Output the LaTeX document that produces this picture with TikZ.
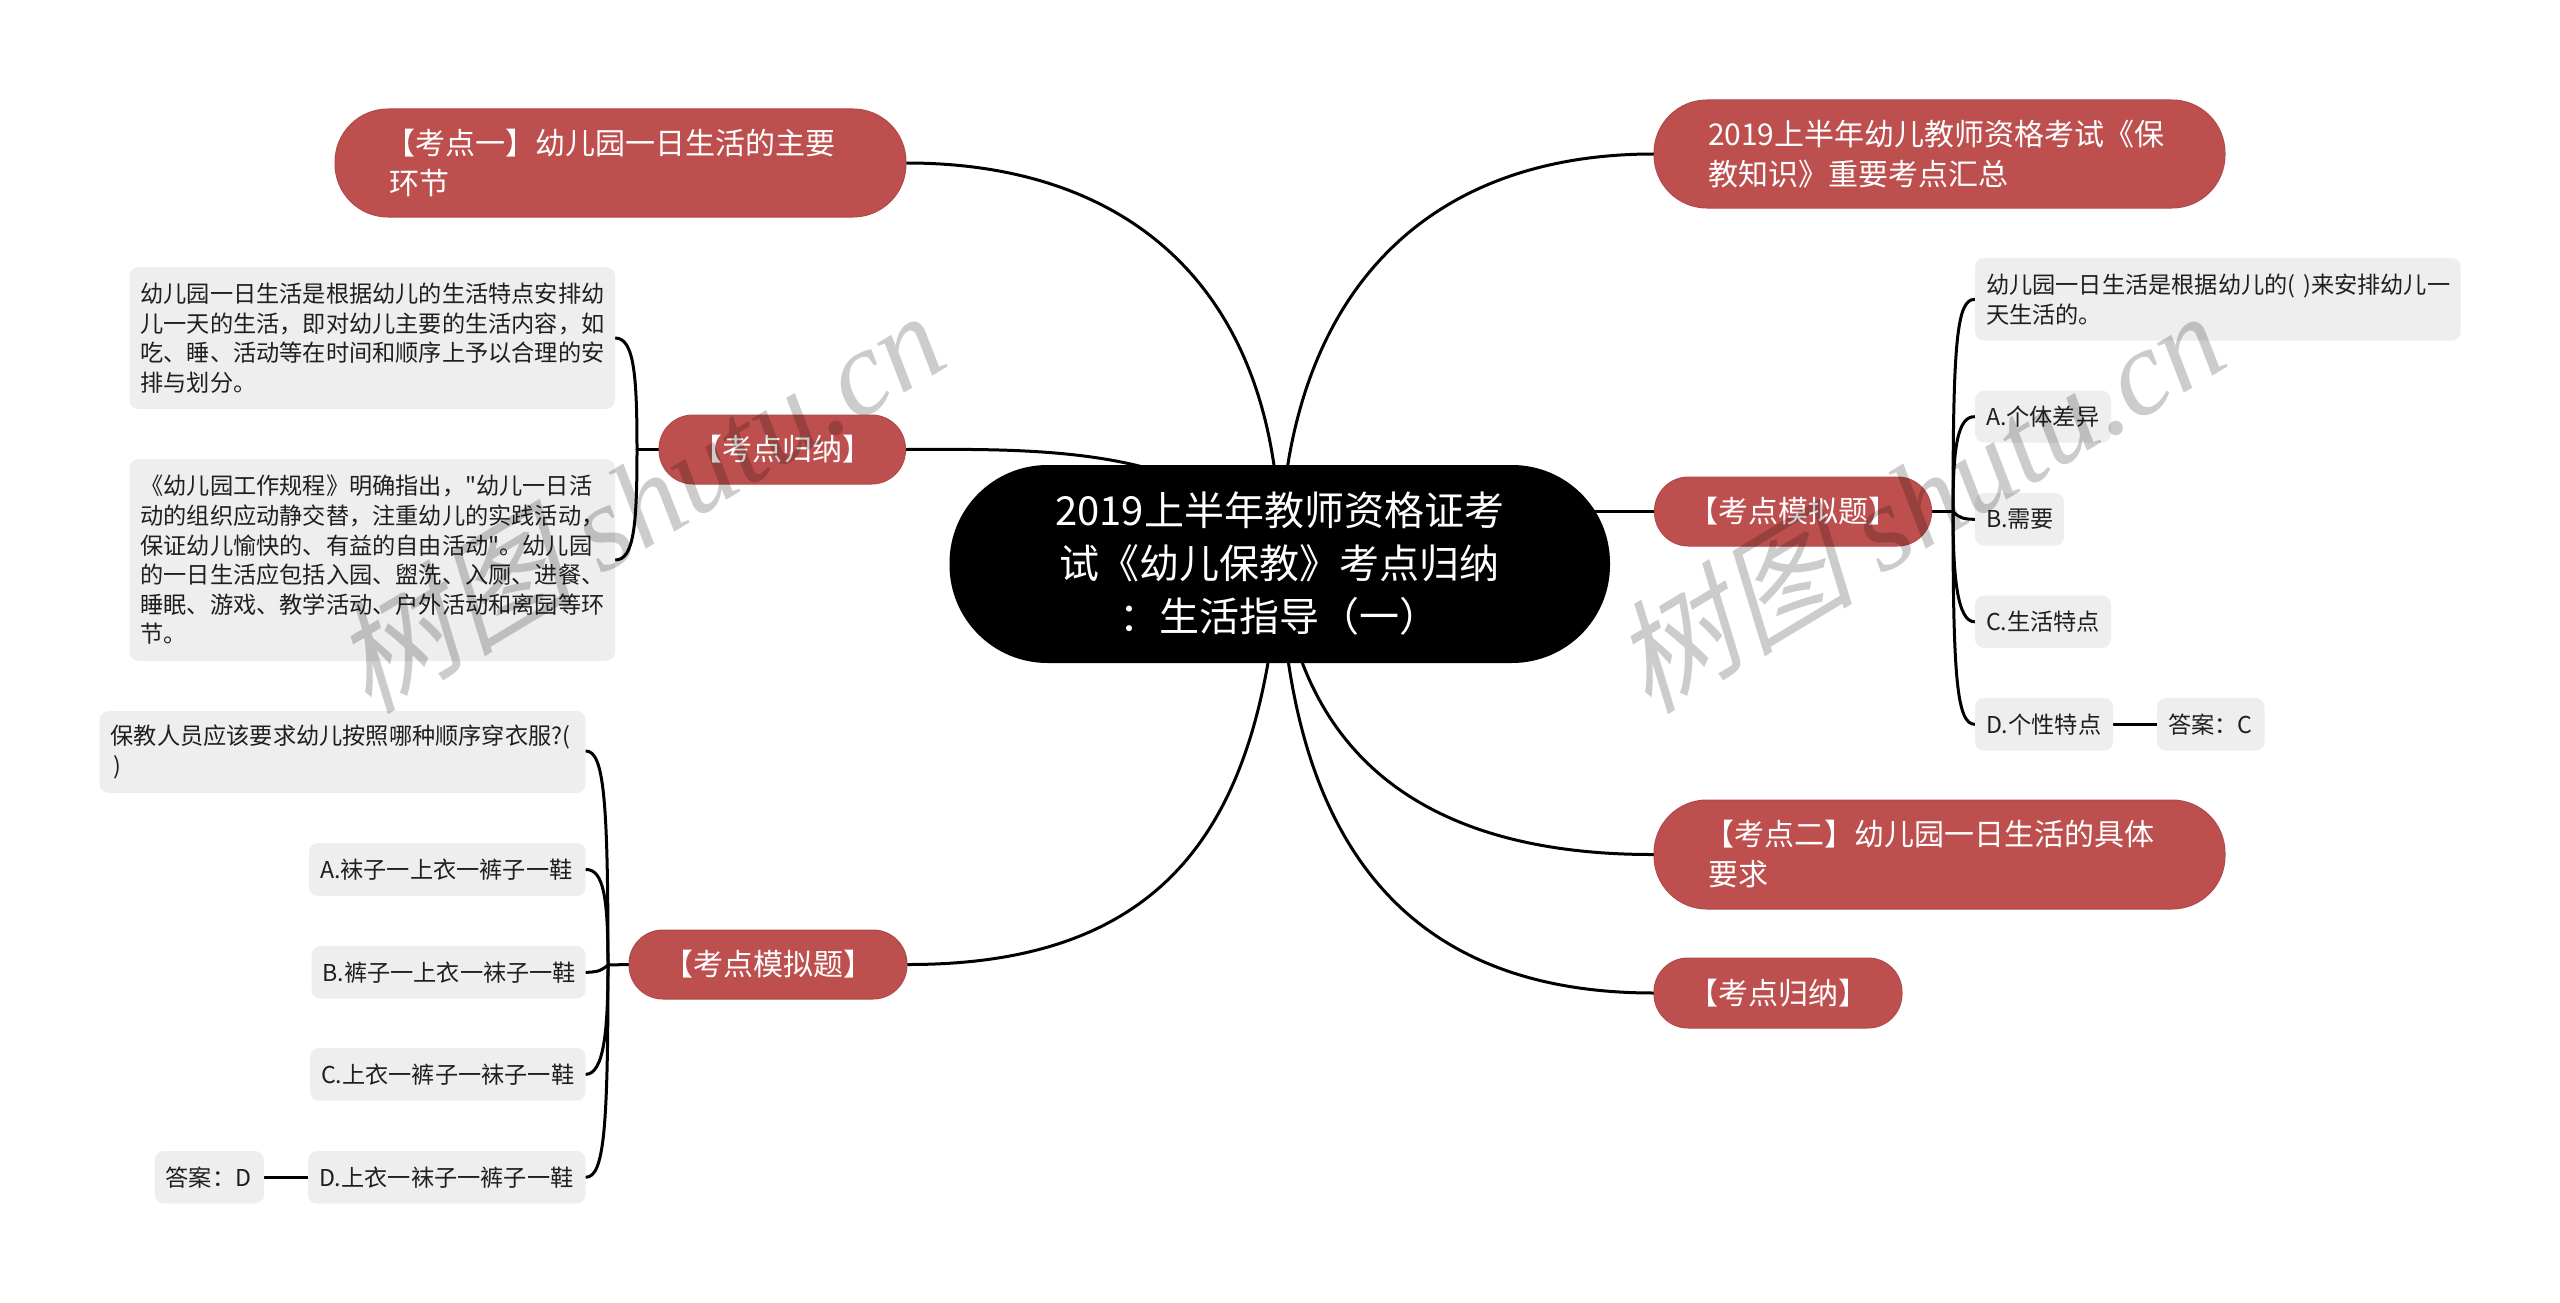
\documentclass[tikz,border=0pt]{standalone}
\usepackage{fontspec}
\setmainfont{Noto Sans CJK SC}[Ligatures=TeXOff]
\newfontfamily\wmcjk[FakeSlant=0.25]{Noto Sans CJK SC}
\newfontfamily\wmlat{Liberation Serif}[ItalicFont=Liberation Serif Italic]
\usetikzlibrary{backgrounds}
\definecolor{pillred}{HTML}{BD504E}
\definecolor{pilledge}{HTML}{B04A48}
\definecolor{leafgray}{HTML}{EEEEEE}
\tikzset{
  rootbox/.style={fill=black,text=white,rounded corners=98pt,inner sep=0pt,align=center,font=\fontsize{40}{53}\selectfont},
  pillbox/.style={fill=pillred,draw=pilledge,line width=1pt,text=white,rounded corners=34pt,inner sep=0pt,align=left,font=\fontsize{30}{40}\selectfont},
  tallpill/.style={pillbox,rounded corners=53pt},
  leafbox/.style={fill=leafgray,text=black!88,rounded corners=9pt,inner sep=0pt,align=left,font=\fontsize{23.2}{29.6}\selectfont},
  link/.style={draw=black,line width=3pt,line cap=round},
  watermark/.style={text=black,opacity=0.2,rotate=31,inner sep=0pt,font=\fontsize{122}{122}\selectfont}
}
\newcommand{\mnode}[8]{%
  \pgfmathsetmacro{\mcx}{(#2+#4)/2}\pgfmathsetmacro{\mcy}{(#3+#5)/2}%
  \pgfmathsetmacro{\mhh}{#5-#3}%
  \pgfmathsetmacro{\mtw}{#4-#2-2*#7}%
  \node[#6,inner xsep=#7 pt,text width=\mtw pt,minimum height=\mhh pt] (#1) at (\mcx,\mcy) {#8};}
\begin{document}
\begin{tikzpicture}[x=1pt,y=-1pt]
\useasboundingbox (0,0) rectangle (2560,1303);
% root
\mnode{root}{949.5}{465}{1610}{663}{rootbox}{40}{2019上半年教师资格证考\\试《幼儿保教》考点归纳\\：生活指导（一）}
% main branches
\mnode{pa}{335}{109}{906}{217}{tallpill}{54}{\hspace*{-4pt}【考点一】幼儿园一日生活的主要\\环节}
\mnode{pb}{659}{415}{905.5}{484}{pillbox,align=center}{20}{【考点归纳】}
\mnode{pc}{629}{930}{907}{999}{pillbox,align=center}{20}{【考点模拟题】}
\mnode{pd}{1654}{100}{2225}{208}{tallpill}{54}{2019上半年幼儿教师资格考试《保\\教知识》重要考点汇总}
\mnode{pe}{1654.5}{477}{1931.5}{546}{pillbox,align=center}{20}{【考点模拟题】}
\mnode{pf}{1654}{800}{2225}{909}{tallpill}{54}{\hspace*{-4pt}【考点二】幼儿园一日生活的具体\\要求}
\mnode{pg}{1654}{958}{1902}{1028}{pillbox,align=center}{20}{【考点归纳】}
% left notes
\mnode{na}{129.5}{267}{615}{409}{leafbox}{11}{幼儿园一日生活是根据幼儿的生活特点安排幼\\儿一天的生活，即对幼儿主要的生活内容，如\\吃、睡、活动等在时间和顺序上予以合理的安\\排与划分。}
\mnode{nb}{129.5}{459}{615}{661}{leafbox}{11}{《幼儿园工作规程》明确指出，"幼儿一日活\\动的组织应动静交替，注重幼儿的实践活动，\\保证幼儿愉快的、有益的自由活动"。幼儿园\\的一日生活应包括入园、盥洗、入厕、进餐、\\睡眠、游戏、教学活动、户外活动和离园等环\\节。}
% left questions
\mnode{lq}{99.7}{711}{585.6}{793}{leafbox}{11}{保教人员应该要求幼儿按照哪种顺序穿衣服?(\\\hspace*{3pt})}
\mnode{la}{309}{843}{585.6}{896}{leafbox}{11}{A.袜子一上衣一裤子一鞋}
\mnode{lb}{311.5}{946}{585.6}{998.7}{leafbox}{11}{B.裤子一上衣一袜子一鞋}
\mnode{lc}{310}{1048}{585.6}{1100.7}{leafbox}{11}{C.上衣一裤子一袜子一鞋}
\mnode{ld}{308}{1151}{585.6}{1203.5}{leafbox}{11}{D.上衣一袜子一裤子一鞋}
\mnode{le}{154.7}{1151}{264}{1203.5}{leafbox}{11}{答案：D}
% right questions
\mnode{rq}{1975}{258}{2460.6}{340.7}{leafbox}{11}{幼儿园一日生活是根据幼儿的(~)来安排幼儿一\\天生活的。}
\mnode{ra}{1975}{390.7}{2111}{442.7}{leafbox}{11}{A.个体差异}
\mnode{rb}{1975}{493}{2064}{545.7}{leafbox}{11}{B.需要}
\mnode{rc}{1975}{595.7}{2111}{648}{leafbox}{11}{C.生活特点}
\mnode{rd}{1975}{698}{2113}{750.7}{leafbox}{11}{D.个性特点}
\mnode{re}{2157}{698}{2264.6}{750.7}{leafbox}{11}{答案：C}
% trunks
\coordinate (tn) at (637,449.5);
\coordinate (tl) at (608,965);
\coordinate (tr) at (1953,511.5);
\begin{scope}[on background layer]
\draw[link] (pa.east) .. controls (1140,163) and (1285,300) .. (root.center);
\draw[link] (pb.east) .. controls (1040,449) and (1220,445) .. (root.center);
\draw[link] (pc.east) .. controls (1180,965) and (1262,810) .. (root.center);
\draw[link] (pd.west) .. controls (1420,154) and (1282,300) .. (root.center);
\draw[link] (pe.west) -- (1500,511.5);
\draw[link] (pf.west) .. controls (1430,855) and (1300,760) .. (root.center);
\draw[link] (pg.west) .. controls (1420,993) and (1290,860) .. (root.center);
\draw[link] (pb.west) -- (tn);
\draw[link] (tn) .. controls (637,375) and (634,338) .. (na.east |- 0,338);
\draw[link] (tn) .. controls (637,525) and (634,560) .. (na.east |- 0,560);
\draw[link] (pc.west) -- (tl);
\draw[link] (tl) .. controls (608,800) and (604,751) .. (lq.east |- 0,751);
\draw[link] (tl) .. controls (608,900) and (604,869) .. (la.east);
\draw[link] (tl) .. controls (600,972) and (595,972) .. (lb.east);
\draw[link] (tl) .. controls (608,1030) and (604,1074) .. (lc.east);
\draw[link] (tl) .. controls (608,1130) and (604,1177) .. (ld.east);
\draw[link] (le.east) -- (ld.west);
\draw[link] (pe.east) -- (tr);
\draw[link] (tr) .. controls (1953,340) and (1957,299) .. (rq.west);
\draw[link] (tr) .. controls (1953,450) and (1957,416) .. (ra.west);
\draw[link] (tr) .. controls (1960,519) and (1965,519) .. (rb.west);
\draw[link] (tr) .. controls (1953,575) and (1957,622) .. (rc.west);
\draw[link] (tr) .. controls (1953,680) and (1957,724) .. (rd.west);
\draw[link] (rd.east) -- (re.west);
\end{scope}
% watermarks
\node[watermark] (wa) at (637,500) {{\wmcjk 树图} {\wmlat\itshape shutu.cn}};
\node[watermark] (wb) at (1917,500) {{\wmcjk 树图} {\wmlat\itshape shutu.cn}};
\end{tikzpicture}
\end{document}
